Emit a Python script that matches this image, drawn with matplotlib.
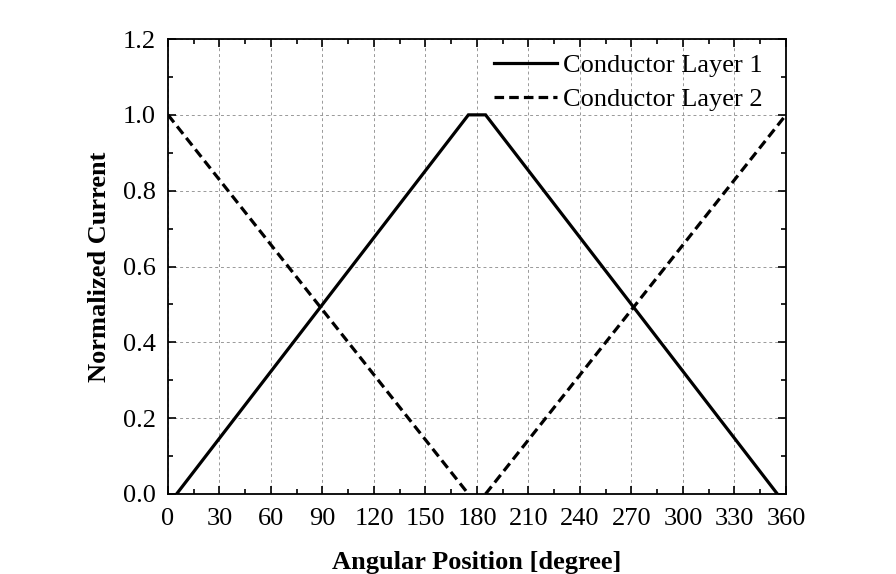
import matplotlib
matplotlib.use("Agg")
import matplotlib.pyplot as plt
import numpy as np
from matplotlib.ticker import MultipleLocator

plt.rcParams['font.family'] = ['Liberation Serif', 'DejaVu Serif']

# Data
layer1_x = [5, 175, 185, 355]
layer1_y = [0.0, 1.0, 1.0, 0.0]
layer2_x = [0, 175, np.nan, 185, 360]
layer2_y = [1.0, 0.0, np.nan, 0.0, 1.0]
xticks = [0, 30, 60, 90, 120, 150, 180, 210, 240, 270, 300, 330, 360]
yticks = [0.0, 0.2, 0.4, 0.6, 0.8, 1.0, 1.2]

fig = plt.figure(figsize=(8.96, 5.74), dpi=100)
ax = fig.add_axes([0.1875, 0.1394, 0.6897, 0.7926])

ax.plot(layer1_x, layer1_y, color='black', lw=2.3, solid_joinstyle='miter', label='Conductor Layer 1')
ax.plot(layer2_x, layer2_y, color='black', lw=2.3, ls=(0, (3, 1.6)), label='Conductor Layer 2')

ax.set_xlim(0, 360)
ax.set_ylim(0, 1.2)
ax.set_xticks(xticks)
ax.set_yticks(yticks)
ax.set_yticklabels([f"{v:.1f}" for v in yticks])
ax.xaxis.set_minor_locator(MultipleLocator(15))
ax.yaxis.set_minor_locator(MultipleLocator(0.1))
ax.tick_params(which='both', direction='in', top=True, right=True, labelsize=19, width=1.2)
ax.tick_params(which='major', length=6)
ax.tick_params(which='minor', length=3.5)
ax.tick_params(axis='x', pad=10)
ax.tick_params(axis='y', pad=9)
for s in ax.spines.values():
    s.set_linewidth(1.3)

ax.grid(True, which='major', color='#999999', ls=(0, (3, 3)), lw=0.7)

ax.set_xlabel('Angular Position [degree]', fontsize=19, fontweight='bold', labelpad=15)
ax.set_ylabel('Normalized Current', fontsize=19, fontweight='bold', labelpad=8)

ax.legend(loc='upper right', bbox_to_anchor=(0.985, 1.0), frameon=False, fontsize=19,
          handlelength=2.4, handletextpad=0.2, borderaxespad=0.15, labelspacing=0.4)

fig.savefig('out.png', dpi=100)
